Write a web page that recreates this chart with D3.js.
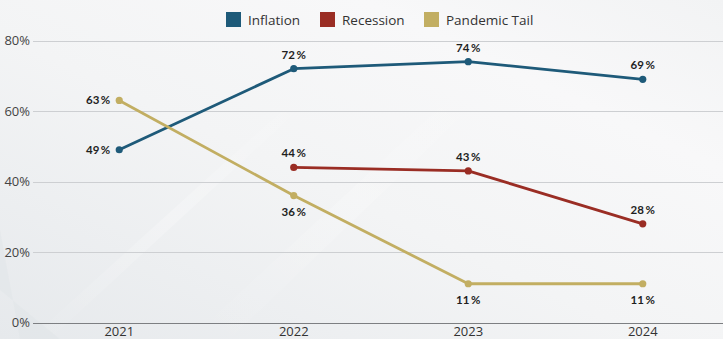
<!DOCTYPE html>
<html>
<head>
<meta charset="utf-8">
<script src="https://cdn.jsdelivr.net/npm/d3@7"></script>
<style>
  html, body { margin: 0; padding: 0; background: #f1f2f4; }
  svg { display: block; }
</style>
</head>
<body>
<svg id="chart" width="723" height="339"></svg>
<script>
// Survey share naming each concern as a top economic risk, by year
const years = ["2021", "2022", "2023", "2024"];
const seriesNames = ["Inflation", "Recession", "Pandemic Tail"];
const inflation = [49, 72, 74, 69];
const recession = [null, 44, 43, 28];
const pandemicTail = [63, 36, 11, 11];
const yTicks = [0, 20, 40, 60, 80];
const colors = ["#1e5a79", "#9a2d24", "#c2ae62"];

// label placement per series and year: "left", "above", "below"
const placement = {
  "Inflation": ["left", "above", "above", "above"],
  "Recession": [null, "above", "above", "above"],
  "Pandemic Tail": ["left", "below", "below", "below"]
};

const seriesValues = [inflation, recession, pandemicTail];
const series = seriesNames.map((name, i) => ({
  name,
  color: colors[i],
  points: years.map((y, j) => ({ year: y, value: seriesValues[i][j], pos: placement[name][j] }))
                .filter(p => p.value !== null)
}));

const W = 723, H = 339;
const svg = d3.select("#chart");

// backdrop: soft grey gradient with faint diagonal light streaks
const defs = svg.append("defs");
const bg = defs.append("linearGradient").attr("id", "bg")
  .attr("x1", "0").attr("y1", "1").attr("x2", "1").attr("y2", "0");
bg.append("stop").attr("offset", "0").attr("stop-color", "#e6e9ec");
bg.append("stop").attr("offset", "0.45").attr("stop-color", "#f3f4f5");
bg.append("stop").attr("offset", "0.75").attr("stop-color", "#f8f8f9");
bg.append("stop").attr("offset", "1").attr("stop-color", "#f2f3f4");
svg.append("rect").attr("width", W).attr("height", H).attr("fill", "url(#bg)");

const streak = defs.append("linearGradient").attr("id", "streak")
  .attr("x1", "0").attr("y1", "1").attr("x2", "1").attr("y2", "0");
streak.append("stop").attr("offset", "0").attr("stop-color", "#ffffff").attr("stop-opacity", 0.0);
streak.append("stop").attr("offset", "0.5").attr("stop-color", "#ffffff").attr("stop-opacity", 0.7);
streak.append("stop").attr("offset", "1").attr("stop-color", "#ffffff").attr("stop-opacity", 0.0);

svg.append("polygon")
  .attr("points", "30,339 50,339 320,90 305,90")
  .attr("fill", "url(#streak)").attr("opacity", 0.35);
svg.append("polygon")
  .attr("points", "190,339 230,339 510,70 480,70")
  .attr("fill", "url(#streak)").attr("opacity", 0.25);
svg.append("polygon")
  .attr("points", "0,230 0,290 60,339 20,339")
  .attr("fill", "#dde1e5").attr("opacity", 0.35);

// scales
const x = d3.scaleBand().domain(years).range([32, 730]).padding(0);
const y = d3.scaleLinear().domain([0, 80]).range([322.5, 40.5]);
const cx = d => x(d) + x.bandwidth() / 2;

// horizontal gridlines
const grid = svg.append("g");
grid.selectAll("line").data(yTicks.filter(t => t > 0)).join("line")
  .attr("x1", 33).attr("x2", W)
  .attr("y1", d => Math.round(y(d)) + 0.5).attr("y2", d => Math.round(y(d)) + 0.5)
  .attr("stroke", "#cdcfd2").attr("stroke-width", 1.2);

// y axis labels
const yAxis = d3.axisLeft(y).tickValues(yTicks).tickFormat(d => d + "%").tickSize(0).tickPadding(3);
const gy = svg.append("g").attr("transform", "translate(33,0)").call(yAxis);
gy.select(".domain").remove();
gy.selectAll("text")
  .attr("font-family", "Open Sans, sans-serif").attr("font-size", 13)
  .attr("fill", "#444");

// baseline x axis
const xAxis = d3.axisBottom(x).tickSize(0).tickPadding(3);
const gx = svg.append("g").attr("transform", `translate(0,${Math.round(y(0)) + 0.5})`).call(xAxis);
gx.select(".domain").remove();
gx.append("line").attr("x1", 33).attr("x2", W).attr("stroke", "#7d7f82").attr("stroke-width", 1.2);
gx.selectAll("text")
  .attr("font-family", "Open Sans, sans-serif").attr("font-size", 13)
  .attr("fill", "#333");

// lines
const line = d3.line().x(d => cx(d.year)).y(d => y(d.value));
const gs = svg.append("g").selectAll("g").data(series).join("g");
gs.append("path")
  .attr("d", d => line(d.points))
  .attr("fill", "none")
  .attr("stroke", d => d.color)
  .attr("stroke-width", 2.8)
  .attr("stroke-linejoin", "round");
gs.selectAll("circle").data(d => d.points.map(p => ({ ...p, color: d.color }))).join("circle")
  .attr("cx", d => cx(d.year)).attr("cy", d => y(d.value))
  .attr("r", 3.6).attr("fill", d => d.color);

// value labels
const labels = svg.append("g");
series.forEach(s => {
  s.points.forEach(p => {
    const px = cx(p.year), py = y(p.value);
    let tx = px, ty = py, anchor = "middle";
    if (p.pos === "above") { ty = py - 10; }
    else if (p.pos === "below") { ty = py + 20; }
    else if (p.pos === "left") { tx = px - 9; ty = py + 4; anchor = "end"; }
    const t = labels.append("text")
      .attr("x", tx).attr("y", ty)
      .attr("text-anchor", anchor)
      .attr("font-family", "Lato, Open Sans, sans-serif")
      .attr("font-weight", 700).attr("font-size", 11.5)
      .attr("fill", "#1f1f1f");
    t.append("tspan").text(p.value);
    t.append("tspan").attr("dx", 1.5).text("%");
  });
});

// legend
const legendItems = [
  { name: seriesNames[0], color: colors[0], x: 226 },
  { name: seriesNames[1], color: colors[1], x: 320 },
  { name: seriesNames[2], color: colors[2], x: 424 }
];
const lg = svg.append("g").selectAll("g").data(legendItems).join("g")
  .attr("transform", d => `translate(${d.x},12)`);
lg.append("rect").attr("width", 15).attr("height", 15).attr("fill", d => d.color);
lg.append("text")
  .attr("x", 22).attr("y", 12.5)
  .attr("font-family", "Open Sans, sans-serif").attr("font-size", 13.5)
  .attr("fill", "#333")
  .text(d => d.name);
</script>
</body>
</html>
